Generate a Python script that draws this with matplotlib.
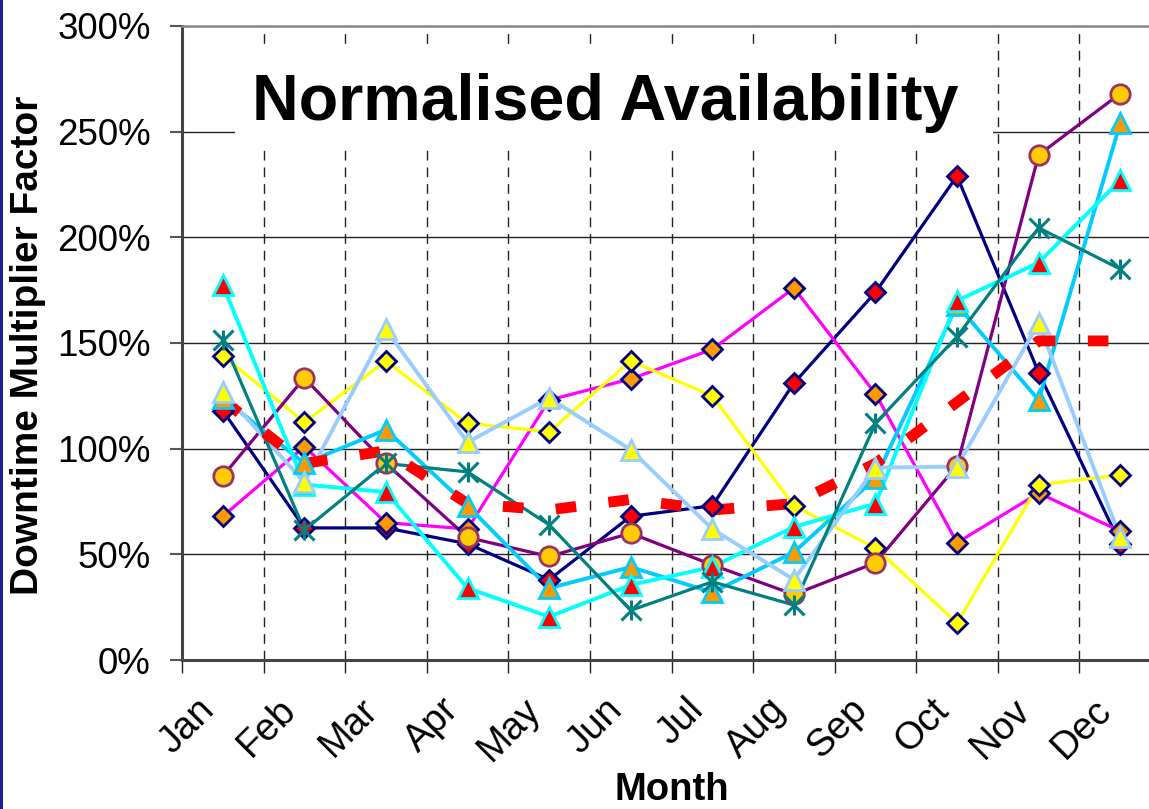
import matplotlib
matplotlib.use('Agg')
import matplotlib.pyplot as plt
from matplotlib.patches import Rectangle
from matplotlib.transforms import ScaledTranslation

plt.rcParams['font.family'] = ['Liberation Sans', 'DejaVu Sans']

# months (categories)
months = ['Jan', 'Feb', 'Mar', 'Apr', 'May', 'Jun', 'Jul', 'Aug', 'Sep', 'Oct', 'Nov', 'Dec']
y_ticks = [0, 50, 100, 150, 200, 250, 300]

# downtime multiplier factor per series (%)
navy_series = [118, 62.5, 62.5, 55, 38, 68, 73, 131, 174, 229, 136, 55]
yellow_series = [144, 112.5, 141.5, 112, 108, 141.5, 125, 73, 53, 17.5, 83, 87.5]
magenta_series = [68, 101, 65, 62, 123, 133, 147, 176, 126, 55.5, 79, 61]
purple_series = [87, 133.5, 93, 58, 49, 60, 45, 31, 46, 92, 239, 268]
teal_series = [151.5, 61.5, 93, 89, 64, 23.5, 37, 26, 112, 153, 204.5, 185]
cyan_series = [177.5, 83, 79.5, 34, 20.5, 35.5, 44, 63, 74, 170, 188, 227]
skyblue_series = [124, 93, 109, 73, 34, 44, 32, 51, 86, 168, 123, 254]
lightblue_series = [127, 84, 156.5, 103, 124, 99.5, 62, 38, 91, 91.5, 159.5, 58]
average_series = [123, 93, 99, 74, 71, 76, 71, 74, 93, 122, 151, 151]

x = list(range(len(months)))

fig = plt.figure(figsize=(11.49, 8.09), dpi=100)
ax = fig.add_axes([182 / 1149, 149 / 809, 979 / 1149, 634 / 809])

# (values, line colour, line width, marker, face, edge, marker size)
styles = [
    (navy_series, '#000080', 2.3, 'D', '#FF0000', '#000080', 10.5),
    (magenta_series, '#FF00FF', 2.3, 'D', '#FF9900', '#000080', 10.5),
    (yellow_series, '#FFFF00', 2.3, 'D', '#FFFF00', '#000080', 10.5),
    (purple_series, '#800080', 2.3, 'o', '#FFCC00', '#993366', 14),
    (skyblue_series, '#00CCFF', 2.8, '^', '#FF9900', '#00CCFF', 14),
    (cyan_series, '#00FFFF', 2.8, '^', '#FF0000', '#00FFFF', 14),
    (lightblue_series, '#99CCFF', 2.8, '^', '#FFFF00', '#99CCFF', 14),
]

for valores, cor, lw, mk, face, borda, ms in styles:
    ax.plot(x, valores, color=cor, lw=lw, zorder=2)

# teal line with star markers
ax.plot(x, teal_series, color='#008080', lw=2.3, zorder=2)

# average (red dashed)
ax.plot(x, average_series, color='#FF0000', lw=7.8, linestyle=(0, (1.9, 3.0)),
        dash_capstyle='butt', zorder=2.5)

for valores, cor, lw, mk, face, borda, ms in styles:
    ax.plot(x, valores, ls='none', marker=mk, markersize=ms, markerfacecolor=face,
            markeredgecolor=borda, markeredgewidth=2, zorder=3)

ax.plot(x, teal_series, ls='none', marker='x', markersize=14, markeredgecolor='#008080',
        markeredgewidth=2.2, zorder=3)
ax.plot(x, teal_series, ls='none', marker='|', markersize=14, markeredgecolor='#008080',
        markeredgewidth=2.2, zorder=3)

ax.set_xlim(-0.5, 11.5)
ax.set_ylim(0, 300)

# y axis
ax.set_yticks(y_ticks)
ax.set_yticklabels([f'{v}%' for v in y_ticks], fontsize=26.5)
ax.tick_params(axis='y', direction='out', length=8.6, width=1.5, color='#555555', pad=14)
ax.yaxis.grid(True, color='#222222', lw=1.0)

# x axis: labels at month centres, ticks / dashed grid at boundaries
ax.set_xticks(x)
ax.set_xticklabels(months, fontsize=27.5, rotation=45, ha='right', va='center',
                   rotation_mode='anchor')
ax.tick_params(axis='x', which='major', length=0, pad=32)
desloca = ScaledTranslation(-14 / 100, 0, fig.dpi_scale_trans)
for rotulo in ax.get_xticklabels():
    rotulo.set_transform(rotulo.get_transform() + desloca)
ax.set_xticks([i - 0.5 for i in range(len(months) + 1)], minor=True)
ax.tick_params(axis='x', which='minor', direction='out', length=9, width=1, color='#222222')
ax.xaxis.grid(True, which='minor', color='#222222', lw=1.0, linestyle=(0, (7, 5)))
ax.set_axisbelow(True)

for lado in ['left', 'bottom']:
    ax.spines[lado].set_linewidth(2.2)
    ax.spines[lado].set_color('#444444')
ax.spines['top'].set_linewidth(1.8)
ax.spines['top'].set_color('#888888')
ax.spines['right'].set_visible(False)

# title box covering the grid
ax.add_patch(Rectangle((0.054, 0.8076), 0.774, 0.1594, transform=ax.transAxes,
                       facecolor='white', edgecolor='none', zorder=1))
ax.text(0.432, 0.852, 'Normalised Availability', transform=ax.transAxes,
        fontsize=46.5, fontweight='bold', ha='center', va='baseline', zorder=1.5)

fig.text(28 / 1149, 1 - 345 / 809, 'Downtime Multiplier Factor', rotation=90,
         fontsize=28, fontweight='bold', ha='center', va='center')
fig.text(672 / 1149, 1 - 790 / 809, 'Month', fontsize=27.5, fontweight='bold',
         ha='center', va='center')

# slide border on the left
fig.patches.append(Rectangle((0, 0), 3 / 1149, 1, transform=fig.transFigure,
                             facecolor='#1E1E96', edgecolor='none'))

fig.savefig('out.png', dpi=100)
